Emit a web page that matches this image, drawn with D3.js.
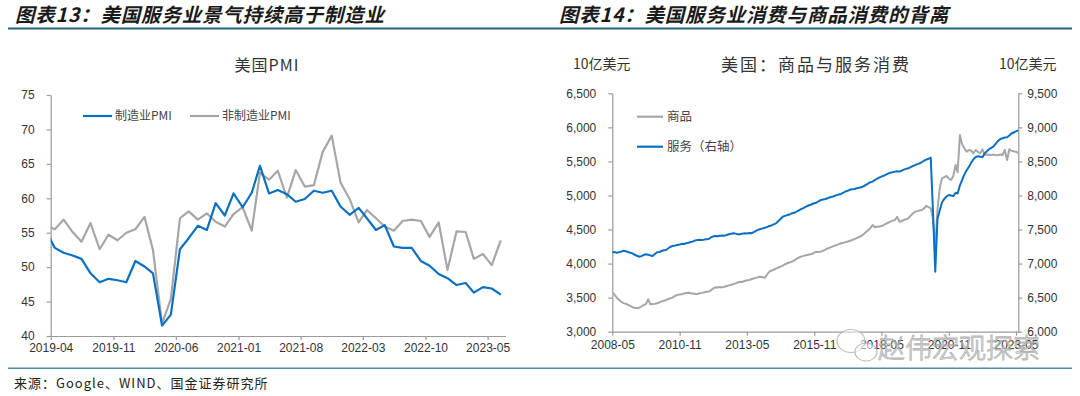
<!DOCTYPE html>
<html><head><meta charset="utf-8">
<script src="https://cdn.jsdelivr.net/npm/d3@7"></script>
<style>body{margin:0;background:#fff}svg{display:block}</style>
</head><body>
<svg id="c" width="1080" height="396"></svg>
<script>
// ---------------- DATA ----------------
// Left chart: US ISM PMI, monthly, first month 2019-03 (clipped at axis start)
const pmiStartMonth = "2019-03";
const pmiManufacturing = [55.3,52.8,52.1,51.7,51.2,49.1,47.8,48.3,48.1,47.8,
  50.9,50.1,49.1,41.5,43.1,52.6,54.2,56.0,55.4,59.3,57.5,60.7,
  58.7,60.8,64.7,60.7,61.2,60.6,59.5,59.9,61.1,60.8,61.1,58.8,
  57.6,58.6,57.1,55.4,56.1,53.0,52.8,52.8,50.9,50.2,49.0,48.4,
  47.4,47.7,46.3,47.1,46.9,46.0];
const pmiNonManufacturing = [56.1,55.5,56.9,55.1,53.7,56.4,52.6,54.7,53.9,55.0,
  55.5,57.3,52.5,41.8,45.4,57.1,58.1,56.9,57.8,56.6,55.9,57.7,
  58.7,55.3,63.7,62.7,64.0,60.1,64.1,61.7,61.9,66.7,69.1,62.3,
  59.9,56.5,58.3,57.1,55.9,55.3,56.7,56.9,56.7,54.4,56.5,49.6,
  55.2,55.1,51.2,51.9,50.3,53.9];
const pmiTickLabels = ["2019-04","2019-11","2020-06","2021-01","2021-08","2022-03","2022-10","2023-05"];
const pmiYTicks = [40,45,50,55,60,65,70,75];

// Right chart: US goods (left axis) & services (right axis) consumption, monthly, first month 2008-04
const consStartMonth = "2008-04";
const goods = [3573,3545,3500,3470,3440,3420,3410,3395,3380,3360,
  3350,3345,3350,3370,3390,3405,3475,3402,3405,3410,
  3417,3430,3445,3455,3465,3480,3490,3505,3525,3539,
  3545,3550,3560,3568,3573,3565,3560,3555,3553,3565,
  3570,3578,3585,3587,3610,3635,3652,3648,3655,3650,
  3661,3670,3680,3690,3700,3710,3725,3734,3730,3745,
  3755,3760,3770,3780,3790,3800,3808,3800,3793,3840,
  3880,3896,3910,3925,3940,3954,3970,3990,4005,4015,
  4028,4045,4065,4085,4101,4110,4120,4125,4135,4140,
  4160,4175,4170,4175,4190,4205,4222,4235,4248,4260,
  4272,4285,4298,4305,4315,4325,4335,4346,4360,4375,
  4390,4405,4430,4460,4490,4518,4567,4533,4540,4545,
  4552,4565,4585,4600,4615,4630,4640,4688,4615,4625,
  4640,4650,4665,4700,4735,4762,4770,4780,4787,4810,
  4846,4830,4812,4650,4230,4800,5105,5252,5270,5286,
  5250,5227,5286,5447,5340,5888,5750,5692,5643,5668,
  5660,5619,5668,5640,5619,5678,5594,5600,5598,5594,
  5600,5590,5594,5600,5594,5668,5521,5678,5657,5650,
  5640,5628];
const services = [7166,7170,7160,7165,7175,7189,7180,7170,7160,7150,
  7130,7115,7101,7110,7125,7136,7130,7120,7111,7140,
  7166,7170,7185,7195,7200,7225,7248,7258,7265,7273,
  7280,7290,7288,7300,7307,7318,7325,7340,7346,7350,
  7345,7352,7357,7360,7385,7400,7405,7400,7408,7412,
  7410,7420,7430,7438,7445,7440,7432,7430,7440,7445,
  7442,7448,7445,7460,7480,7495,7508,7515,7525,7535,
  7552,7560,7575,7591,7620,7655,7688,7700,7712,7720,
  7738,7745,7760,7778,7795,7812,7830,7845,7860,7872,
  7885,7894,7915,7934,7940,7948,7960,7973,7980,7992,
  8005,8015,8022,8040,8060,8070,8085,8091,8095,8105,
  8112,8120,8135,8155,8175,8195,8203,8225,8245,8262,
  8276,8290,8305,8320,8335,8340,8350,8355,8350,8365,
  8380,8390,8399,8415,8430,8445,8460,8472,8490,8510,
  8528,8540,8555,7750,6881,7660,7780,7900,7950,7985,
  8007,8000,7990,8040,8030,8150,8230,8310,8370,8420,
  8480,8530,8565,8575,8570,8560,8615,8650,8680,8700,
  8720,8760,8800,8830,8840,8850,8855,8880,8910,8925,
  8940,8955];
const consTickLabels = ["2008-05","2010-11","2013-05","2015-11","2018-05","2020-11","2023-05"];
const goodsTicks = [3000,3500,4000,4500,5000,5500,6000,6500];
const servicesTicks = [6000,6500,7000,7500,8000,8500,9000,9500];

// ---------------- DRAW ----------------
const svg = d3.select("#c");
const CJK = "'Noto Sans CJK SC','Noto Sans',sans-serif";
const LAT = "Arial,'Liberation Sans',sans-serif";
const BLUE = "#0a70c4", GRAY = "#a6a6a6", AXIS = "#9a9a9a", TXT = "#333";
const parseM = d3.timeParse("%Y-%m");

// headers
svg.append("line").attr("x1",8).attr("x2",1072).attr("y1",28.5).attr("y2",28.5)
  .attr("stroke","#235f80").attr("stroke-width",2);
svg.append("line").attr("x1",8).attr("x2",1072).attr("y1",368.3).attr("y2",368.3)
  .attr("stroke","#4b8cab").attr("stroke-width",1.5);
[["图表13：美国服务业景气持续高于制造业",15],["图表14：美国服务业消费与商品消费的背离",559]].forEach(([t,x])=>{
  svg.append("text").attr("x",x).attr("y",22).text(t)
    .attr("font-family",CJK).attr("font-size",19.5).attr("font-weight",700)
    .attr("font-style","italic").attr("letter-spacing",0.8).attr("fill","#1a1a1a");
});
svg.append("text").attr("x",14).attr("y",388).text("来源：Google、WIND、国金证券研究所")
  .attr("font-family",CJK).attr("font-size",13).attr("letter-spacing",1.0).attr("fill","#222");

function styleAxis(g){
  g.select(".domain").attr("stroke",AXIS).attr("stroke-width",1.2);
  g.selectAll(".tick line").attr("stroke",AXIS).attr("stroke-width",1.2);
  g.selectAll(".tick text").attr("fill",TXT).attr("font-family",LAT).attr("font-size",12);
}

// ---------- Left chart ----------
{
  const dates = pmiManufacturing.map((_,i)=>{const d=parseM(pmiStartMonth); return new Date(d.getFullYear(), d.getMonth()+i, 15);});
  const x = d3.scaleTime().domain([new Date(2019,3,1), new Date(2023,6,1)]).range([50.7,505.5]);
  const y = d3.scaleLinear().domain([40,75]).range([336,95]);
  svg.append("clipPath").attr("id","clipL").append("rect")
    .attr("x",50.7).attr("y",80).attr("width",455).attr("height",260);
  const gx = svg.append("g").attr("transform","translate(0,336)")
    .call(d3.axisBottom(x).tickValues(pmiTickLabels.map(parseM)).tickFormat(d3.timeFormat("%Y-%m")).tickSize(4).tickSizeOuter(0).tickPadding(3));
  styleAxis(gx);
  const gy = svg.append("g").attr("transform","translate(50.7,0)")
    .call(d3.axisLeft(y).tickValues(pmiYTicks).tickSize(4).tickSizeOuter(0).tickPadding(12));
  styleAxis(gy);
  const line = d3.line().x((d,i)=>x(dates[i])).y(d=>y(d));
  const pl = svg.append("g").attr("clip-path","url(#clipL)");
  pl.append("path").datum(pmiNonManufacturing).attr("d",line).attr("fill","none")
    .attr("stroke",GRAY).attr("stroke-width",2.2).attr("stroke-linejoin","round");
  pl.append("path").datum(pmiManufacturing).attr("d",line).attr("fill","none")
    .attr("stroke",BLUE).attr("stroke-width",2.2).attr("stroke-linejoin","round");
  svg.append("text").attr("x",267).attr("y",71).attr("text-anchor","middle").text("美国PMI")
    .attr("font-family",CJK).attr("font-size",16).attr("fill",TXT).attr("letter-spacing",1);
  const lg = [["制造业PMI",BLUE,83],["非制造业PMI",GRAY,190]];
  lg.forEach(([t,c,lx])=>{
    svg.append("line").attr("x1",lx).attr("x2",lx+29).attr("y1",116).attr("y2",116)
      .attr("stroke",c).attr("stroke-width",2.2);
    svg.append("text").attr("x",lx+32).attr("y",120).text(t)
      .attr("font-family",CJK).attr("font-size",12).attr("fill","#444");
  });
}

// ---------- Right chart ----------
{
  const s = parseM(consStartMonth);
  const dates = goods.map((_,i)=> d3.timeDay.offset(new Date(s.getFullYear(), s.getMonth()+i+1, 1), -1));
  const x = d3.scaleTime().domain([new Date(2008,4,1), new Date(2023,5,1)]).range([612.3,1018.3]);
  const yl = d3.scaleLinear().domain([3000,6500]).range([331.7,93.3]);
  const yr = d3.scaleLinear().domain([6000,9500]).range([331.7,93.3]);
  svg.append("clipPath").attr("id","clipR").append("rect")
    .attr("x",612.3).attr("y",80).attr("width",406.5).attr("height",260);
  const fmt = d3.format(",");
  const gx = svg.append("g").attr("transform","translate(0,331.7)")
    .call(d3.axisBottom(x).tickValues(consTickLabels.map(parseM)).tickFormat(d3.timeFormat("%Y-%m")).tickSize(4).tickSizeOuter(0).tickPadding(5));
  styleAxis(gx);
  const gl = svg.append("g").attr("transform","translate(612.3,0)")
    .call(d3.axisLeft(yl).tickValues(goodsTicks).tickFormat(fmt).tickSize(4).tickSizeOuter(0).tickPadding(12));
  styleAxis(gl);
  const gr = svg.append("g").attr("transform","translate(1018.3,0)")
    .call(d3.axisRight(yr).tickValues(servicesTicks).tickFormat(fmt).tickSize(4).tickSizeOuter(0).tickPadding(5));
  styleAxis(gr);
  const pl = svg.append("g").attr("clip-path","url(#clipR)");
  pl.append("path").datum(goods).attr("d",d3.line().x((d,i)=>x(dates[i])).y(d=>yl(d)))
    .attr("fill","none").attr("stroke",GRAY).attr("stroke-width",2).attr("stroke-linejoin","round");
  pl.append("path").datum(services).attr("d",d3.line().x((d,i)=>x(dates[i])).y(d=>yr(d)))
    .attr("fill","none").attr("stroke",BLUE).attr("stroke-width",2).attr("stroke-linejoin","round");
  svg.append("text").attr("x",816).attr("y",71).attr("text-anchor","middle").text("美国：商品与服务消费")
    .attr("font-family",CJK).attr("font-size",17).attr("fill",TXT).attr("letter-spacing",2);
  svg.append("text").attr("x",573).attr("y",69).text("10亿美元")
    .attr("font-family",CJK).attr("font-size",14).attr("fill",TXT);
  svg.append("text").attr("x",999).attr("y",69).text("10亿美元")
    .attr("font-family",CJK).attr("font-size",14).attr("fill",TXT);
  [["商品",GRAY,116.7],["服务（右轴）",BLUE,146.7]].forEach(([t,c,ly])=>{
    svg.append("line").attr("x1",637).attr("x2",663).attr("y1",ly).attr("y2",ly)
      .attr("stroke",c).attr("stroke-width",2.2);
    svg.append("text").attr("x",667).attr("y",ly+4.5).text(t)
      .attr("font-family",CJK).attr("font-size",12.5).attr("fill","#444");
  });
}

// watermark (overlays the last x labels, as in the reference)
{
  const wm = svg.append("g").attr("opacity",0.85);
  wm.append("ellipse").attr("cx",851).attr("cy",341).attr("rx",14).attr("ry",11.5)
    .attr("fill","rgba(255,255,255,0.6)").attr("stroke","#b5b5b5").attr("stroke-width",1.2);
  wm.append("ellipse").attr("cx",866).attr("cy",352).attr("rx",11).attr("ry",9)
    .attr("fill","rgba(255,255,255,0.6)").attr("stroke","#b5b5b5").attr("stroke-width",1.2);
  wm.append("text").attr("x",878).attr("y",358).text("赵伟宏观探索")
    .attr("font-family",CJK).attr("font-size",27).attr("font-weight",300)
    .attr("fill","rgba(255,255,255,0.55)").attr("stroke","#a8a8a8").attr("stroke-width",0.9);
}
</script>
</body></html>
